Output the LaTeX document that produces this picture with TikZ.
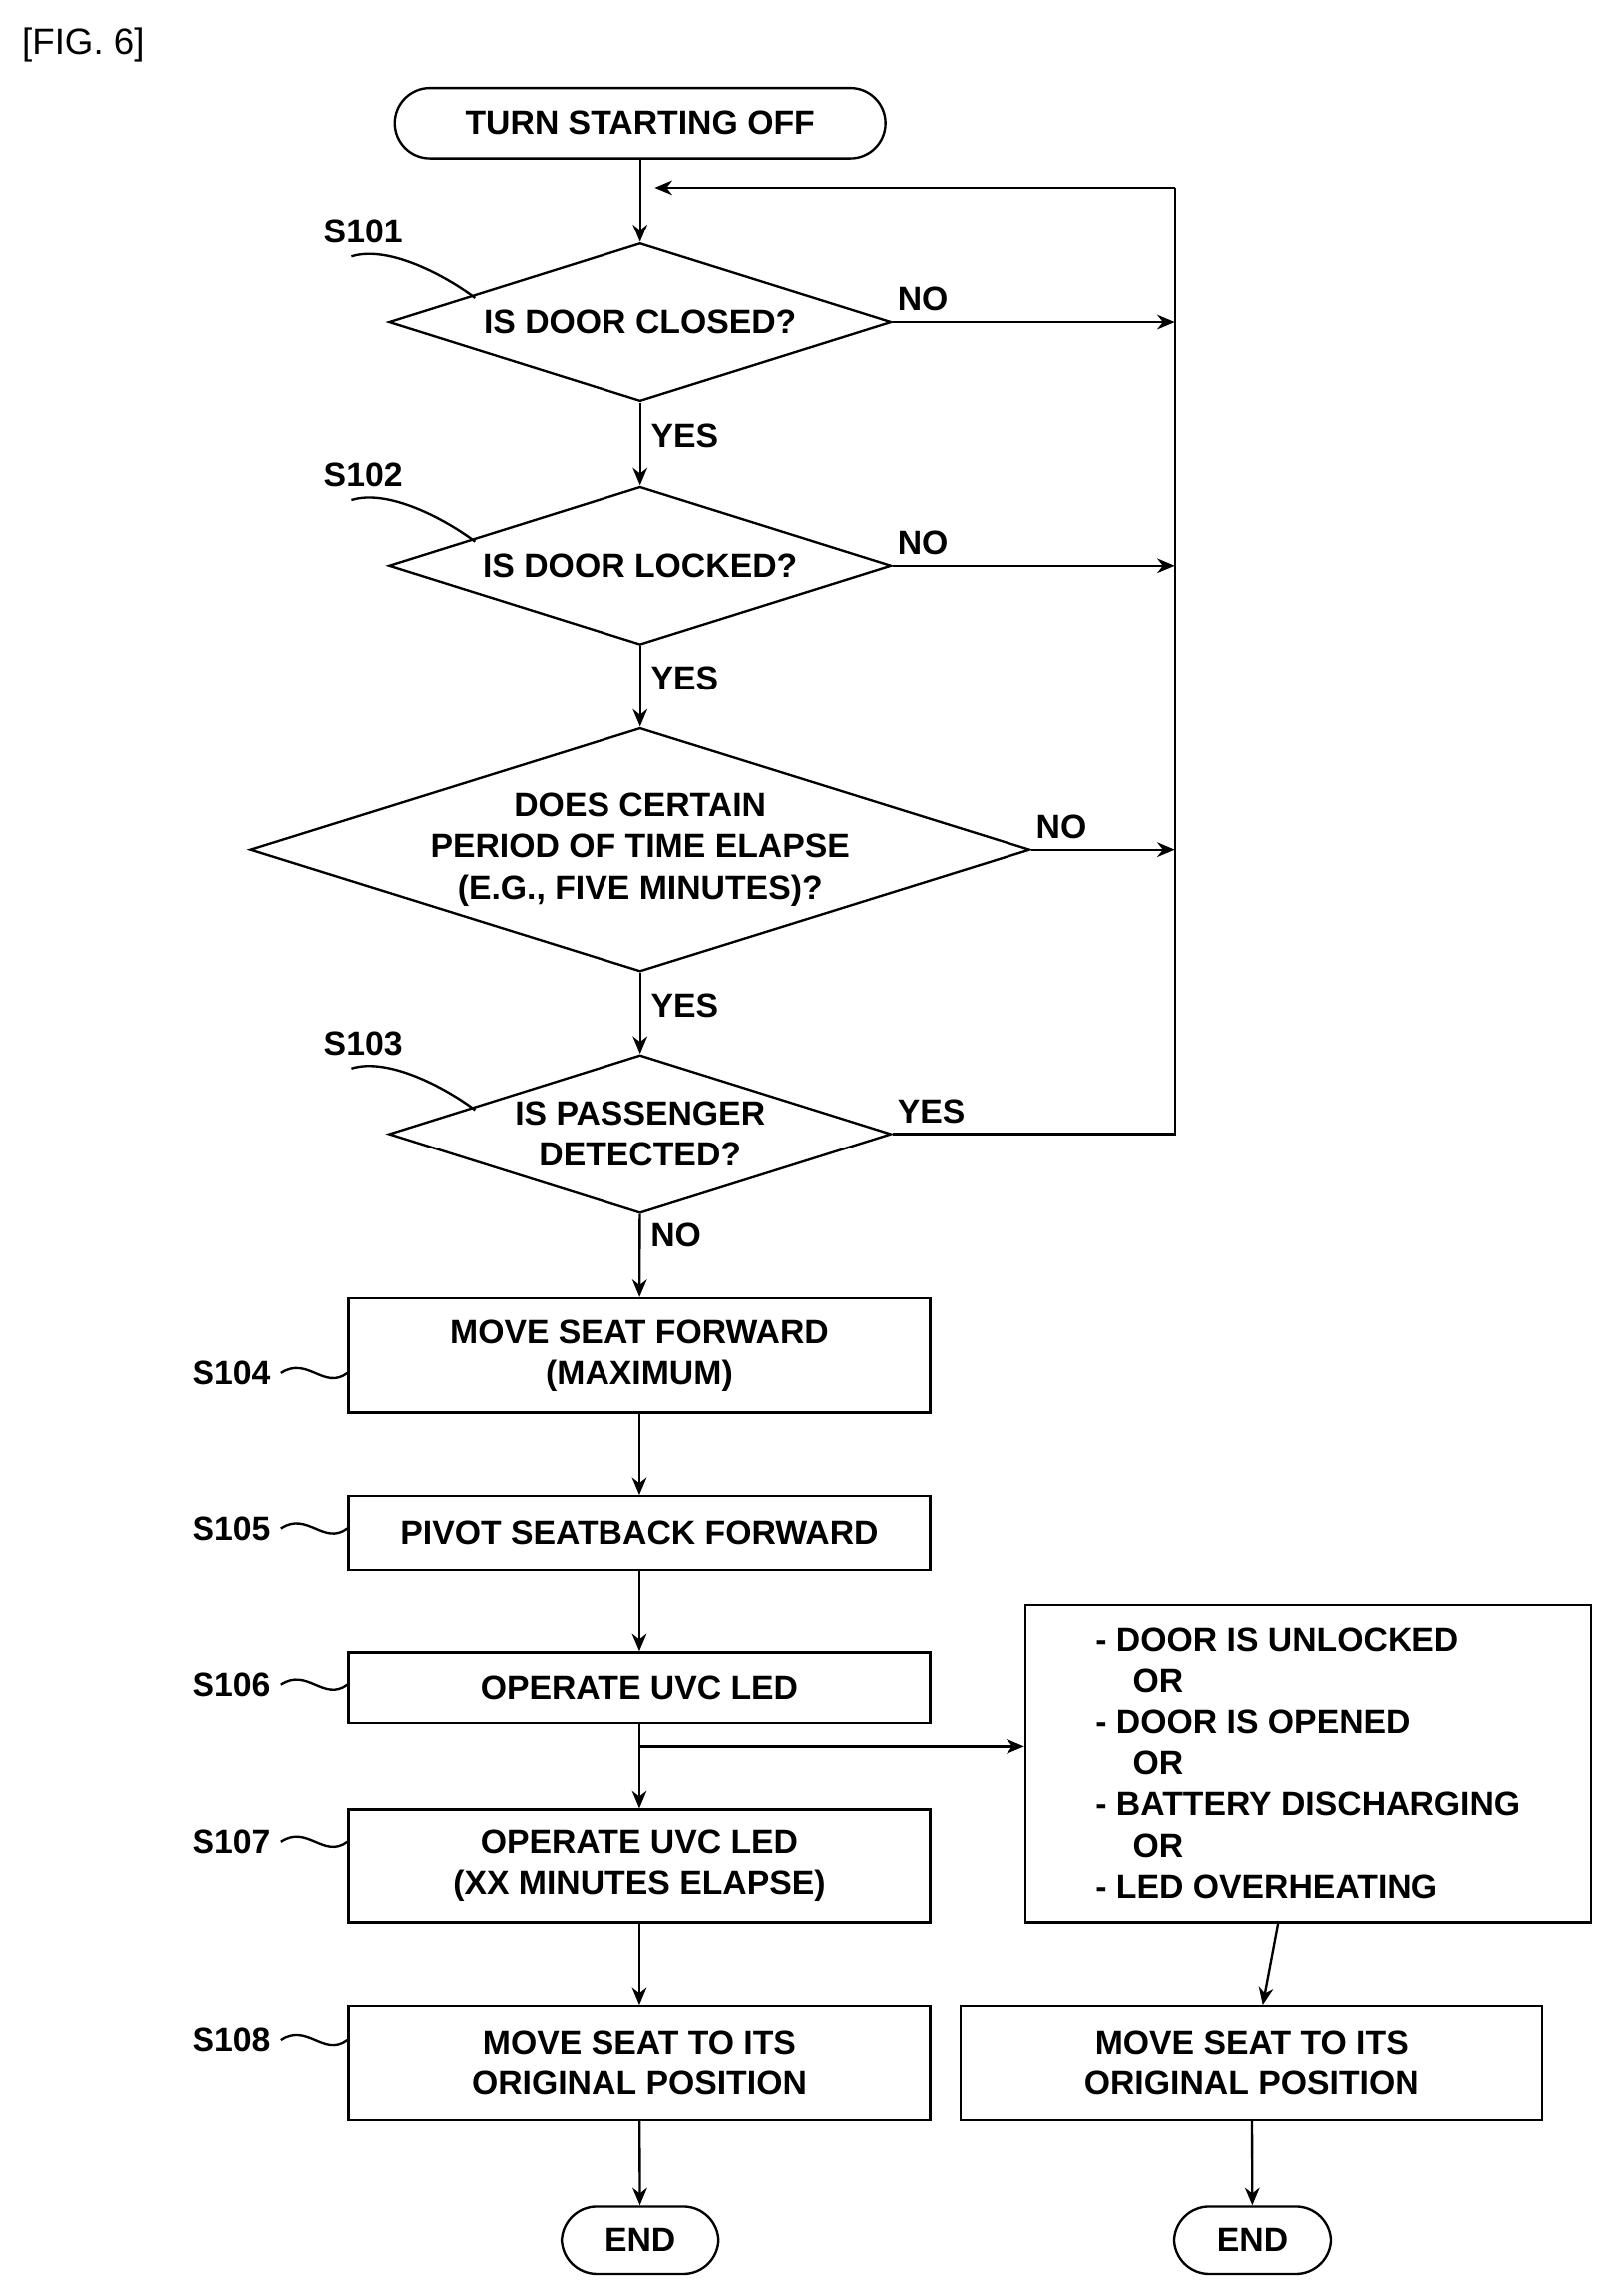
\documentclass[tikz,border=0pt]{standalone}
\usepackage{fontspec}
\setmainfont{Liberation Sans}
\usetikzlibrary{shapes.geometric,arrows.meta,calc}
\begin{document}
\begin{tikzpicture}[x=0.5pt,y=-0.5pt,
  every node/.style={font=\fontsize{11.5}{14}\selectfont\bfseries},
  line/.style={line width=0.8pt},
  arr/.style={line, -{Stealth[length=6pt,width=5pt]}},
  box/.style={draw,line width=0.8pt,minimum width=198.5pt,align=center,inner sep=0pt},
  dia/.style={draw,line width=0.8pt,diamond,aspect=3.2,inner sep=0pt,align=center},
  term/.style={draw,line width=0.8pt,rounded corners=12pt,minimum height=24pt,inner sep=0pt},
  lab/.style={font=\fontsize{11.5}{14}\selectfont\bfseries}]
\useasboundingbox (0,0) rectangle (1100,1567);
\node[anchor=north west,font=\fontsize{12.5}{15}\selectfont] (fig) at (8,12) {[FIG. 6]};
\node[term,minimum width=167.5pt] (start) at (437,84) {TURN STARTING OFF};
\node[dia,minimum width=171.5pt,minimum height=54pt] (d1) at (437,220) {IS DOOR CLOSED?};
\node[dia,minimum width=171.5pt,minimum height=54pt] (d2) at (437,386) {IS DOOR LOCKED?};
\node[dia,minimum width=259.5pt,minimum height=82pt] (d3) at (437,580) {DOES CERTAIN\\PERIOD OF TIME ELAPSE\\(E.G., FIVE MINUTES)?};
\node[dia,minimum width=171.5pt,minimum height=54pt] (d4) at (437,774) {IS PASSENGER\\DETECTED?};
\node[box,minimum height=39pt] (b4) at (436.5,925) {MOVE SEAT FORWARD\\(MAXIMUM)};
\node[box,minimum height=25pt] (b5) at (436.5,1046) {PIVOT SEATBACK FORWARD};
\node[box,minimum height=24pt] (b6) at (436.5,1152) {OPERATE UVC LED};
\node[box,minimum height=38.5pt] (b7) at (436.5,1273.5) {OPERATE UVC LED\\(XX MINUTES ELAPSE)};
\node[box,minimum height=39pt] (b8) at (436.5,1408) {MOVE SEAT TO ITS\\ORIGINAL POSITION};
\node[term,minimum width=53.5pt,minimum height=23pt] (e1) at (437,1529) {END};
\node[draw,line width=0.8pt,minimum width=193pt,minimum height=108.5pt,align=left,inner sep=0pt,font=\fontsize{11.5}{14}\selectfont\bfseries] (rb) at (893,1203.5) {- DOOR IS UNLOCKED\\\hspace*{1.1em}OR\\- DOOR IS OPENED\\\hspace*{1.1em}OR\\- BATTERY DISCHARGING\\\hspace*{1.1em}OR\\- LED OVERHEATING};
\node[box,minimum height=39pt] (b9) at (854.5,1408) {MOVE SEAT TO ITS\\ORIGINAL POSITION};
\node[term,minimum width=53.5pt,minimum height=23pt] (e2) at (855,1529) {END};
% step labels
\node[lab] (s101) at (248,158) {S101};
\node[lab] (s102) at (248,324) {S102};
\node[lab] (s103) at (248,712) {S103};
\node[lab] (s104) at (158,937) {S104};
\node[lab] (s105) at (158,1043) {S105};
\node[lab] (s106) at (158,1150) {S106};
\node[lab] (s107) at (158,1257) {S107};
\node[lab] (s108) at (158,1392) {S108};
\foreach \s/\d in {s101/d1,s102/d2,s103/d4}
  \draw[line] ([xshift=-4pt,yshift=-1pt]\s.south) .. controls +(25,-8) and +(-20,-15) .. ([xshift=4pt]$(\d.west)!0.3!(\d.north)$);
\foreach \s/\b in {s104/b4,s105/b5,s106/b6,s107/b7,s108/b8}
  \draw[line] (\s.east) .. controls +(18,-12) and +(-16,12) .. (\s.east -| \b.west);
% coordinates
\coordinate (top) at (802,128);
\coordinate (r1) at (802,220);
\coordinate (r2) at (802,386);
\coordinate (r3) at (802,580);
\coordinate (r4) at (802,774);
\coordinate (j) at (437,128);
\coordinate (br) at (437,1192);
% main flow
\draw[arr] (start) -- (d1);
\draw[arr] (d1) -- node[right,pos=0.4]{YES} (d2);
\draw[arr] (d2) -- node[right,pos=0.4]{YES} (d3);
\draw[arr] (d3) -- node[right,pos=0.4]{YES} (d4);
\draw[arr] (d4) -- node[right,pos=0.25]{NO} (b4);
\draw[arr] (b4) -- (b5);
\draw[arr] (b5) -- (b6);
\draw[arr] (b6) -- (b7);
\draw[arr] (b7) -- (b8);
\draw[arr] (b8) -- (e1);
\draw[arr] (br) -- (rb.west |- br);
\draw[arr] (rb) -- (b9);
\draw[arr] (b9) -- (e2);
% loop
\draw[arr] (d1.east) node[above right,xshift=-2pt]{NO} -- (r1);
\draw[arr] (d2.east) node[above right,xshift=-2pt]{NO} -- (r2);
\draw[arr] (d3.east) node[above right,xshift=-2pt]{NO} -- (r3);
\draw[line] (d4.east) node[above right,xshift=-2pt]{YES} -- (r4) -- (top);
\draw[arr] (top) -- ([xshift=5pt]j);
\end{tikzpicture}
\end{document}
